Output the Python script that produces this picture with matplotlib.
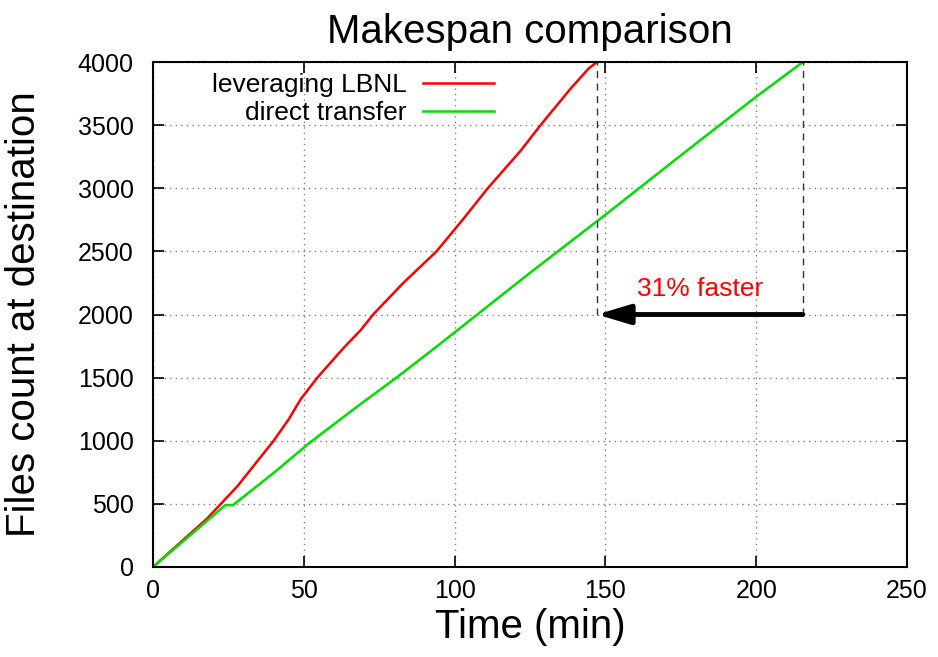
import numpy as np
import matplotlib
matplotlib.use("Agg")
import matplotlib.pyplot as plt

plt.rcParams['font.family'] = ['Liberation Sans', 'DejaVu Sans']

# values
lbnl_time = [0, 7, 18, 22.5, 28, 33, 40, 45, 49, 54.5, 63, 69, 73, 83, 94, 103, 111, 122, 128.5, 138.5, 144.5, 147.2]
lbnl_files = [0, 150, 385, 500, 640, 790, 1000, 1170, 1330, 1500, 1730, 1880, 2000, 2250, 2500, 2760, 3000, 3300, 3500, 3790, 3950, 4000]

direct_time = [0, 12, 24, 26.5, 40, 52, 66, 81, 94, 106.2, 125, 150, 175, 200, 215.5]
direct_files = [0, 245, 490, 490, 745, 985, 1240, 1505, 1745, 1975, 2330, 2790, 3260, 3725, 4000]

x_ticks = [0, 50, 100, 150, 200, 250]
y_ticks = [0, 500, 1000, 1500, 2000, 2500, 3000, 3500, 4000]

end_lbnl = lbnl_time[-1]
end_direct = direct_time[-1]
arrow_level = 2000
note = "31% faster"

fig = plt.figure(figsize=(9.38, 6.57), dpi=100)
ax = fig.add_axes([153 / 938, 1 - 567 / 657, 754 / 938, 505 / 657])

ax.plot(lbnl_time, lbnl_files, color='#ff0000', lw=1.8, label='leveraging LBNL')
ax.plot(direct_time, direct_files, color='#00e000', lw=1.8, label='direct transfer')

# dashed markers at the two makespans
ax.plot([end_lbnl, end_lbnl], [arrow_level, 4000], color='#333333', lw=1, ls=(0, (5, 4)))
ax.plot([end_direct, end_direct], [arrow_level, 4000], color='#333333', lw=1, ls=(0, (5, 4)))

ax.annotate('', xy=(end_lbnl, arrow_level), xytext=(end_direct, arrow_level),
            arrowprops=dict(arrowstyle='-|>,head_length=1.0,head_width=0.3',
                            lw=3.5, color='black', shrinkA=0, shrinkB=0,
                            mutation_scale=20))
ax.text(181.4, 2200, note, color='#ff0000', fontsize=19, ha='center', va='center')

ax.set_xlim(0, 250)
ax.set_ylim(0, 4000)
ax.set_xticks(x_ticks)
ax.set_yticks(y_ticks)
ax.tick_params(direction='in', length=8, width=1.2, top=True, right=True, labelsize=18)
ax.tick_params(axis='x', pad=9)
ax.tick_params(axis='y', pad=14)
ax.grid(True, color='#808080', ls=(0, (1, 3)), lw=1)
for s in ax.spines.values():
    s.set_linewidth(1.5)

ax.set_title('Makespan comparison', fontsize=29, pad=14)
ax.set_xlabel('Time (min)', fontsize=29, labelpad=3)
ax.set_ylabel('Files count at destination', fontsize=29, labelpad=25)

ax.legend(loc='upper right', bbox_to_anchor=(0.473, 1.01), markerfirst=False, frameon=False,
          fontsize=19, handlelength=2.7, handletextpad=0.6, labelspacing=0.15, borderaxespad=0.2)

fig.savefig('out.png', dpi=100)
